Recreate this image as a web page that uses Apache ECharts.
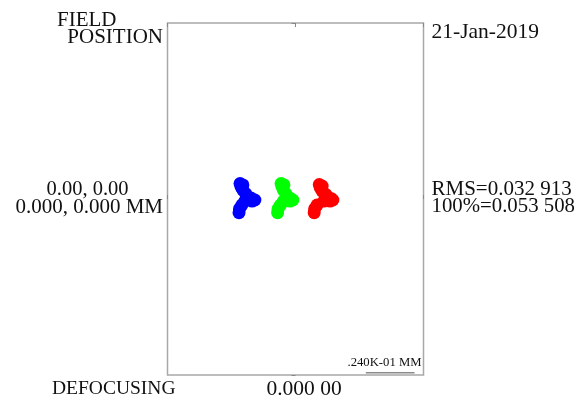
<!DOCTYPE html>
<html><head><meta charset="utf-8">
<script src="https://cdn.jsdelivr.net/npm/echarts@6/dist/echarts.min.js"></script>
<style>html,body{margin:0;padding:0;background:#fff}#c{width:583px;height:396px}</style>
</head><body><div id="c"></div>
<script>
// spot positions in micrometres relative to the chief ray
const blueSpot = [[-27.3,7.6],[-25.9,6.9],[-26.8,5.9],[-25.9,4.4],[-24.4,2.5],[-23.9,1.0],[-21.9,0.5],[-20.0,-0.5],[-21.4,-1.0],[-24.9,-1.0],[-26.4,-3.0],[-27.6,-4.9],[-27.8,-6.7]];
const greenSpot = [[-7.1,7.6],[-5.7,6.9],[-6.6,5.9],[-6.0,4.4],[-4.7,2.5],[-4.2,1.0],[-2.7,0.4],[-1.3,-0.5],[-2.7,-1.0],[-5.9,-1.0],[-7.4,-3.0],[-8.6,-4.9],[-8.8,-6.7]];
const redSpot = [[11.7,7.1],[13.1,6.4],[12.2,5.4],[13.1,3.9],[15.0,2.2],[15.5,0.7],[17.5,0.3],[18.4,-0.5],[17.0,-1.0],[14.0,-1.0],[10.6,-3.0],[9.4,-4.9],[9.2,-6.7]];
const scaleBar = [[34.6,-85.4],[58.6,-85.4]];
const xRange = [-63, 63];
const yRange = [-86.5, 86.5];
const labels = {
  field: 'FIELD', position: 'POSITION', date: '21-Jan-2019',
  fieldVal: '0.00, 0.00', fieldMM: '0.000, 0.000 MM',
  rms: 'RMS=0.032 913', full: '100%=0.053 508',
  defocus: 'DEFOCUSING', defocusVal: '0.000 00', scale: '.240K-01 MM'
};

const chart = echarts.init(document.getElementById('c'));
const font = '"Liberation Serif", "Times New Roman", serif';
function txt(text, x, y, align, size) {
  return {type:'text', x:x, y:y, style:{text:text, fill:'#111', font: size+'px ' + font, align:align||'left', verticalAlign:'middle'}};
}
const axisLine = {show:false};
const tick = {show:true, inside:true, length:4, lineStyle:{color:'#888', width:1}};
const spot = (data, color) => ({type:'scatter', data:data, symbolSize:13, itemStyle:{color:color, opacity:1}, silent:true, z:3});
chart.setOption({
  animation:false,
  grid:{left:167.5, width:256, top:23, height:352, show:true, borderColor:'#a8a8a8', borderWidth:1.5, backgroundColor:'#fff'},
  xAxis:[
    {type:'value', min:xRange[0], max:xRange[1], interval:63, position:'bottom', axisLine:axisLine, axisTick:tick, axisLabel:{show:false}, splitLine:{show:false}},
    {type:'value', min:xRange[0], max:xRange[1], interval:63, position:'top', axisLine:axisLine, axisTick:tick, axisLabel:{show:false}, splitLine:{show:false}}
  ],
  yAxis:[
    {type:'value', min:yRange[0], max:yRange[1], interval:86.5, position:'right', axisLine:axisLine, axisTick:tick, axisLabel:{show:false}, splitLine:{show:false}}
  ],
  series:[
    spot(blueSpot, '#0000ff'),
    spot(greenSpot, '#00ff00'),
    spot(redSpot, '#ff0000'),
    {type:'line', data:scaleBar, symbol:'none', lineStyle:{color:'#8a8a8a', width:1.5}, silent:true}
  ],
  graphic:[
    txt(labels.field, 57, 20, 'left', 21),
    txt(labels.position, 163, 37.5, 'right', 21),
    txt(labels.date, 431.5, 32.5, 'left', 21.5),
    txt(labels.fieldVal, 87.5, 190, 'center', 20.5),
    txt(labels.fieldMM, 163, 207, 'right', 21),
    txt(labels.rms, 431.5, 189.5, 'left', 21),
    txt(labels.full, 431.5, 207, 'left', 20.8),
    txt(labels.defocus, 52, 389, 'left', 19.5),
    txt(labels.defocusVal, 304, 389, 'center', 21.5),
    txt(labels.scale, 421.5, 363, 'right', 12.7)
  ]
});
</script></body></html>
